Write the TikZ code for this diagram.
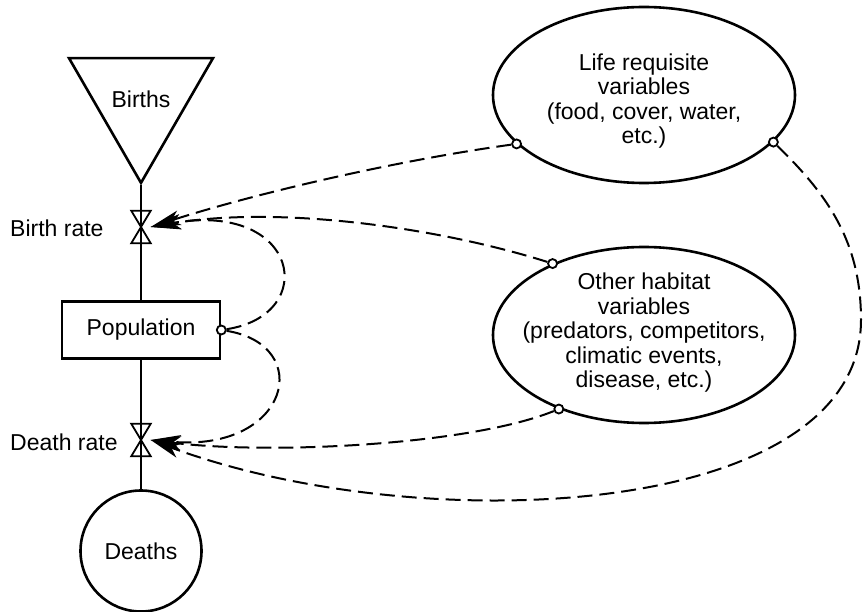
\documentclass[tikz,border=0pt]{standalone}
\usepackage{fontspec}
\setmainfont{Liberation Sans}
\usetikzlibrary{shapes.geometric,arrows.meta,positioning}

\begin{document}
\begin{tikzpicture}[x=1pt,y=1pt,
	every node/.style={font=\fontsize{23}{24.5}\selectfont},
	stock/.style={draw,line width=2.6pt,inner sep=0pt},
	valvebox/.style={minimum width=19pt,minimum height=32pt,inner sep=0pt},
	habitat/.style={draw,ellipse,line width=2.6pt,minimum width=302pt,minimum height=176pt,inner sep=0pt},
	tap/.style={draw,circle,line width=1.8pt,fill=white,minimum size=9pt,inner sep=0pt},
	info/.style={line width=2pt,dash pattern=on 15pt off 7pt,-{Stealth[length=30pt,width=15pt,inset=8pt]}},
	ratelabel/.style={anchor=west,inner sep=0pt}]
	\useasboundingbox (0,0) rectangle (863,-612);
	
	%stocks
	\node[stock,regular polygon,regular polygon sides=3,shape border rotate=180,minimum size=151pt] (births) at (141,-99.7) {Births};
	\node[stock,minimum width=158pt,minimum height=57pt] (population) at (141,-330) {Population};
	\node[stock,circle,minimum size=121pt] (deaths) at (141,-551) {Deaths};
	
	%flow
	\draw[line width=2.6pt] (births.corner 1) -- (population.north);
	\draw[line width=2.6pt] (population.south) -- (deaths.north);
	
	%valves
	\node[valvebox] (birthrate) at (141,-227) {};
	\node[valvebox] (deathrate) at (141,-440) {};
	\foreach \v in {birthrate,deathrate}{
		\draw[line width=1.8pt,fill=white] (\v.north west) -- (\v.north east) -- (\v.south west) -- (\v.south east) -- cycle;
		\draw[line width=2.6pt] (\v.north) -- (\v.south);}
	\node[ratelabel] (birthlabel) at (10,-228) {Birth rate};
	\node[ratelabel] (deathlabel) at (10,-442) {Death rate};
	
	%habitat variables
	\node[habitat] (life) at (644,-95) {};
	\node[align=center] (lifetext) at (644,-101) {Life requisite\\variables\\(food, cover, water,\\etc.)};
	\node[habitat] (other) at (644,-335) {};
	\node[align=center] (othertext) at (644,-333) {Other habitat\\variables\\(predators, competitors,\\climatic events,\\disease, etc.)};
	
	%taps
	\node[tap] (lifeout1) at (life.201) {};
	\node[tap] (lifeout2) at (life.340) {};
	\node[tap] (otherout1) at (other.142) {};
	\node[tap] (otherout2) at (other.221) {};
	\node[tap] (popout) at (population.east) {};
	\coordinate (rim) at (861,-320);
	
	%info links
	\draw[info] (lifeout1) .. controls (400,-160) and (260,-192) .. (birthrate.east);
	\draw[info] (otherout1) .. controls (440,-228) and (280,-205) .. (birthrate.east);
	\draw[info] (popout) .. controls (320,-315) and (300,-200) .. (birthrate.east);
	\draw[info] (popout) .. controls (315,-345) and (290,-452) .. (deathrate.east);
	\draw[info] (otherout2) .. controls (470,-445) and (270,-455) .. (deathrate.east);
	\draw[info] (lifeout2) .. controls (829,-196) and (861,-243) .. (rim)
		.. controls (861,-520) and (420,-540) .. (deathrate.east);	%round the right side
\end{tikzpicture}
\end{document}
